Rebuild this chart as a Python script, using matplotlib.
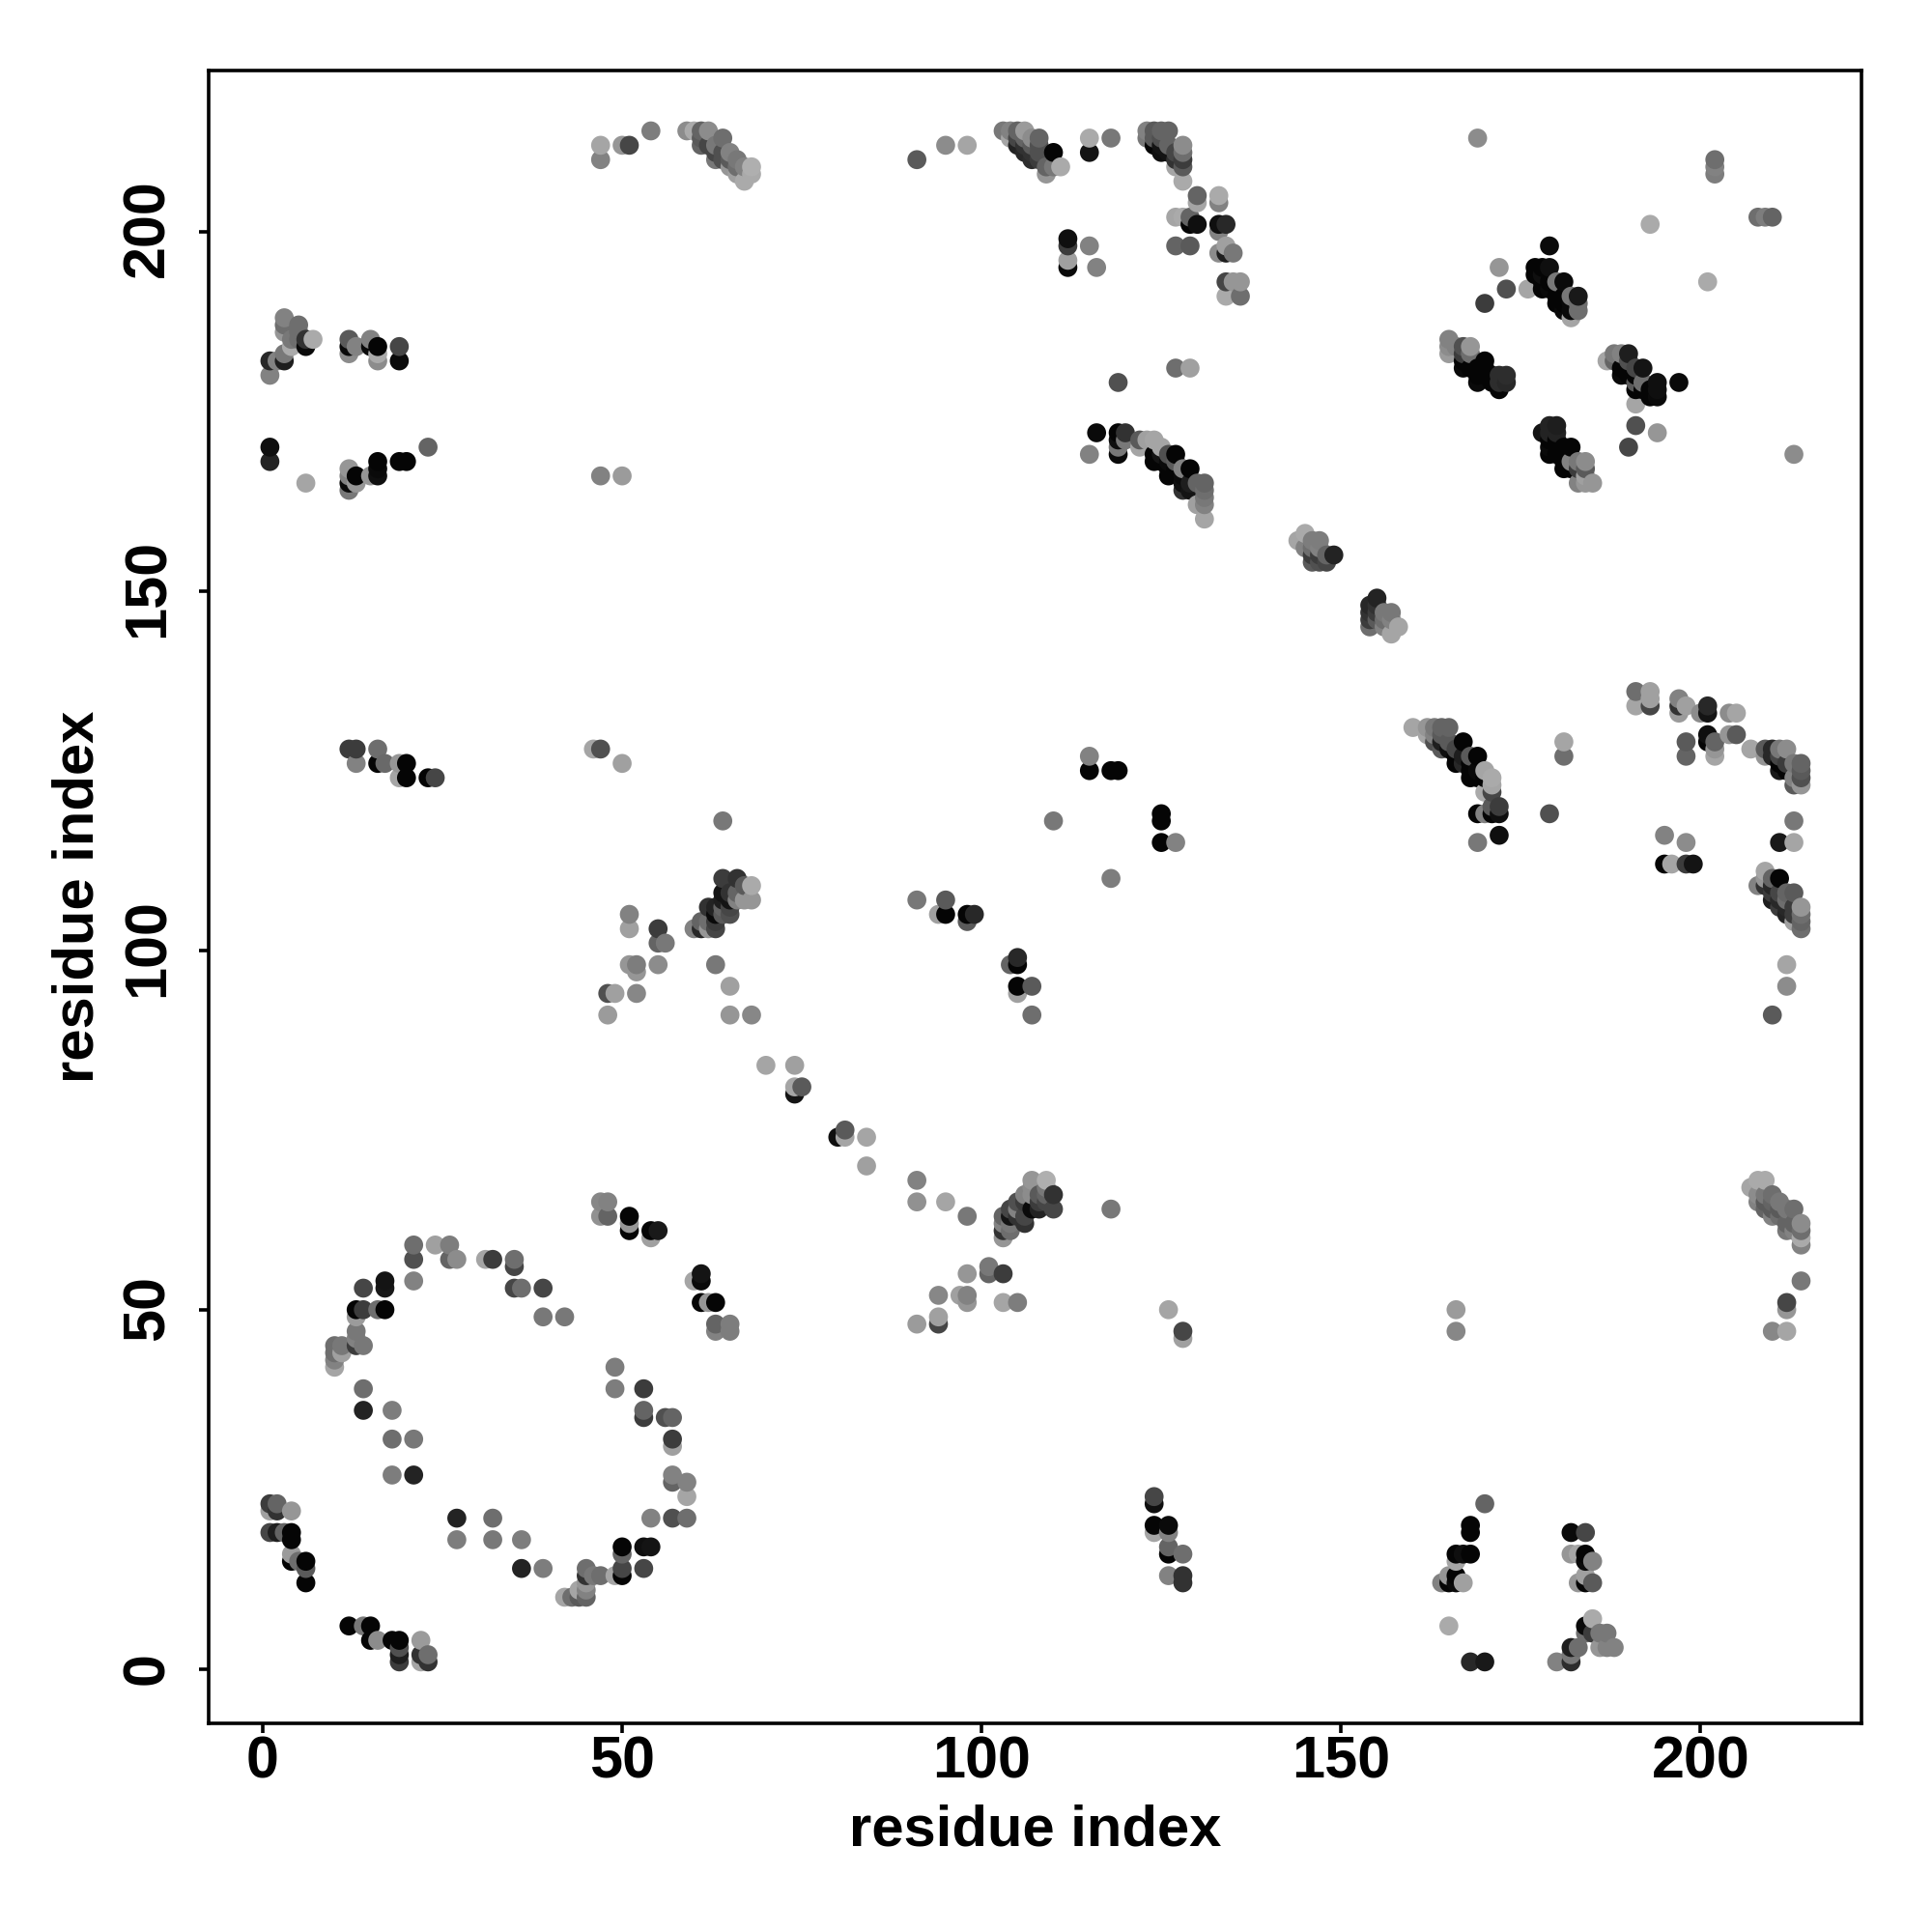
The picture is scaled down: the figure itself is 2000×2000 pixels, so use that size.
import numpy as np
import matplotlib
matplotlib.use("Agg")
import matplotlib.pyplot as plt
from matplotlib.transforms import ScaledTranslation

# each contact is (residue i, residue j, grey level)
top_left = [
    (47,212,165),(47,210,130),(50,212,150),(51,212,70),(54,214,125),(59,214,140),(60,214,170),(61,214,100),
    (62,214,140),(64,213,110),(61,213,90),(61,212,100),(62,212,70),(63,212,120),(63,211,70),(64,211,80),(64,210,80),
    (63,210,120),(65,211,130),(65,210,90),(65,209,150),(66,210,120),(66,209,110),(66,208,160),(67,209,130),(67,207,170),
    (68,209,175),(68,208,170),
    (3,188,130),(3,187,110),(3,186,150),(5,187,110),(5,186,110),(5,185,110),(4,185,120),(4,184,170),(3,183,120),(3,182,30),
    (1,182,40),(2,182,130),(1,180,130),(6,184,10),(6,185,50),(7,185,170),
    (12,185,90),(12,184,10),(12,183,140),(13,184,130),(15,185,130),(15,184,10),(16,184,5),(16,183,170),(16,182,140),
    (19,184,70),(19,182,10),
    (1,170,15),(1,168,35),(6,165,165),(23,170,100),(19,168,5),(20,168,5),(16,168,5),(16,167,10),(16,166,15),(15,166,150),
    (13,166,5),(12,167,150),(12,166,130),(12,165,10),(13,165,150),(12,164,120),(47,166,130),(50,166,155),
]
top_middle = [
    (91,210,90),(95,212,140),(98,212,165),(103,214,120),(104,214,130),(105,214,100),(106,214,155),(104,213,165),(105,213,70),
    (105,212,35),(106,213,100),(106,212,50),(106,211,40),(107,213,140),(107,212,90),(107,211,50),(107,210,45),(108,213,100),
    (108,212,80),(108,211,80),(108,210,60),(109,209,100),(109,208,150),(110,211,5),(110,209,120),(111,209,170),
    (115,213,170),(115,211,20),(118,213,120),
    (123,214,130),(123,213,120),(124,214,90),(124,213,90),(124,212,5),(125,214,100),(125,213,80),(125,212,20),(125,211,15),
    (126,214,100),(126,212,100),(126,211,20),(127,211,70),(127,210,50),(127,209,165),(128,212,140),(128,211,110),(128,210,60),
    (128,209,90),(128,207,170),
    (130,205,100),(130,204,165),(133,205,170),(133,204,130),(127,202,165),(128,202,170),(129,202,100),(129,201,5),(130,201,15),
    (133,201,15),(134,201,40),(133,200,130),(127,198,100),(129,198,90),(133,197,140),(134,198,160),(134,197,30),(135,197,120),
    (134,193,70),(135,193,150),(136,193,150),(134,191,170),(136,191,110),
    (112,199,15),(112,198,60),(112,196,160),(112,195,10),(115,198,130),(116,195,130),(127,181,110),(129,181,160),(119,179,80),
    (116,172,10),(119,172,5),(120,172,50),(119,171,15),(119,170,120),(119,169,10),(115,169,130),(120,171,120),(122,171,90),
    (123,171,160),(124,171,165),(122,170,165),(125,170,165),(124,169,5),(124,168,5),(125,168,5),(125,169,20),(126,169,80),
    (126,168,10),(126,167,5),(127,169,5),(127,168,90),(127,167,5),(126,166,5),(128,167,130),(128,166,10),(128,165,15),(129,167,5),
    (128,164,50),(129,165,30),(129,164,20),(130,165,100),(131,165,100),(131,164,110),(131,163,120),(130,162,160),(131,162,130),
    (131,160,165),
]
top_right = [
    (169,213,140),(202,210,110),(202,209,130),(202,208,125),(208,202,110),(209,202,125),(210,202,100),(193,201,170),(201,193,170),
    (213,169,140),(179,198,10),(172,195,150),(173,192,80),(170,190,60),(176,192,165),
    (177,195,5),(178,195,5),(179,195,15),(177,194,5),(178,194,15),(178,193,5),(178,192,5),(179,193,5),(179,192,10),(180,193,120),
    (181,193,10),(180,191,5),(180,190,5),(181,191,5),(182,191,120),(183,191,25),(181,190,5),(181,189,10),(183,190,110),(183,189,110),
    (182,190,10),(182,189,10),(182,188,165),
    (165,185,130),(165,184,140),(165,183,155),(166,184,130),(167,184,80),(168,184,150),(167,183,60),(167,182,5),(167,181,10),
    (168,183,110),(168,181,5),(169,181,5),(169,180,5),(169,179,10),(170,182,5),(170,181,5),(170,180,5),(171,180,5),(171,179,5),
    (172,180,45),(173,180,45),(172,179,45),(173,179,40),(172,178,5),
    (187,182,165),(188,183,120),(188,182,100),(189,183,130),(189,181,5),(189,180,10),(190,183,30),(190,182,80),(190,181,5),
    (190,180,5),(191,181,70),(192,181,20),(191,180,5),(191,179,90),(191,178,5),(192,179,110),(192,178,5),(193,178,5),(194,179,15),
    (194,178,15),(194,177,10),(193,177,5),(191,176,165),(197,179,10),(191,173,80),(194,172,150),(190,170,70),
    (178,172,20),(179,173,35),(180,173,30),(179,172,35),(180,172,35),(179,171,5),(180,171,5),(179,170,10),(181,170,5),(182,170,5),
    (179,169,5),(180,169,5),(181,168,5),(181,167,5),(182,167,5),(182,168,130),(183,168,120),(183,167,60),(184,168,140),(184,167,90),
    (183,165,130),(184,166,160),(184,165,150),(185,165,150),
]
diagonal = [
    (144,157,165),(145,158,170),(145,156,130),(146,157,125),(147,157,125),(146,156,110),(146,155,60),(146,154,90),(147,156,130),
    (147,155,60),(147,154,80),(148,155,100),(148,154,70),(149,155,35),
    (154,148,40),(154,147,50),(154,146,60),(154,145,110),(155,149,35),(155,148,50),(155,147,60),(155,146,90),(156,147,120),
    (156,146,110),(156,145,130),(157,147,120),(157,146,130),(157,144,165),(158,145,165),
]
middle_left = [
    (12,128,60),(13,128,60),(13,126,130),(16,128,110),(16,126,5),(17,126,105),(19,126,150),(20,126,5),(19,124,165),(20,124,5),
    (23,124,5),(24,124,70),(46,128,165),(47,128,80),(50,126,160),(64,118,120),
    (64,110,60),(66,110,50),(67,109,90),(68,109,170),(64,108,20),(65,108,50),(65,107,20),(66,107,130),(66,108,100),(67,107,150),
    (68,107,150),(62,106,50),(63,106,35),(64,107,30),(64,106,100),(65,106,70),(65,105,80),(63,105,10),(64,105,90),(61,104,100),
    (62,104,110),(60,103,130),(61,103,40),(62,103,150),(63,103,70),(63,104,60),
    (51,105,130),(51,103,160),(55,103,60),(55,101,100),(56,101,120),(51,98,150),(52,98,125),(52,97,150),(55,98,140),(63,98,120),
    (65,95,160),(48,94,80),(49,94,160),(52,94,135),(48,91,155),(65,91,150),(68,91,135),
]
middle_centre = [
    (115,127,130),(115,125,5),(118,125,5),(119,125,5),(110,118,120),(125,119,5),(125,118,5),(125,115,5),(127,115,130),(118,110,125),
    (91,107,120),(95,107,90),(94,105,160),(95,105,5),(98,105,5),(98,104,90),(99,105,40),(104,98,100),(105,99,40),(105,98,5),
    (105,95,5),(105,94,160),(107,95,90),(107,91,110),
    (70,84,165),(74,84,160),(74,81,165),(74,80,20),(75,81,90),(80,74,15),(81,75,90),(81,74,165),(84,74,165),(84,70,160),
]
middle_right = [
    (160,131,165),(162,131,150),(163,131,120),(164,131,100),(165,131,100),(162,130,165),(163,130,130),(163,129,80),(164,130,90),
    (164,129,30),(164,128,90),(165,129,90),(165,128,15),(167,129,5),(166,128,70),(166,127,5),(168,127,90),(169,127,5),(166,126,5),
    (167,127,30),(167,126,40),(168,126,5),(168,125,5),(168,124,5),(169,125,10),(169,124,5),(170,125,165),(171,124,170),(170,124,5),
    (171,123,165),(170,122,170),(171,122,70),(172,120,60),(171,120,90),(169,119,5),(170,119,130),(171,119,5),(172,119,15),(172,116,15),
    (169,115,120),(179,119,80),(181,129,165),(181,127,110),
    (191,136,110),(193,136,160),(193,135,160),(193,134,70),(191,134,165),(197,135,130),(198,134,160),(197,134,50),(197,133,155),
    (200,133,140),(201,134,40),(201,133,20),(204,133,140),(205,133,165),(201,130,15),(201,129,5),(204,130,150),(205,130,90),
    (202,129,100),(202,128,150),(202,127,165),(198,129,90),(198,127,100),
    (207,128,165),(209,128,90),(209,127,150),(210,128,40),(210,127,40),(211,128,120),(212,128,140),(211,127,70),(211,126,5),
    (211,125,25),(212,126,60),(212,125,5),(213,126,120),(214,126,100),(214,125,90),(213,124,130),(214,124,80),(213,123,90),(214,123,150),
    (213,118,120),(211,115,25),(213,115,165),(195,116,130),(198,115,140),(195,112,5),(196,112,165),(198,112,60),(199,112,20),
    (209,111,165),(208,109,130),(209,110,150),(210,110,100),(211,110,5),(209,109,50),(210,109,40),(210,108,60),(210,107,30),
    (211,108,70),(211,107,40),(211,106,60),(212,108,100),(213,108,90),(212,107,110),(212,106,40),(212,105,35),(214,106,150),
    (213,106,60),(213,105,60),(213,104,160),(214,105,110),(214,104,100),(214,103,110),
    (212,98,165),(212,95,140),(210,91,90),
]
bottom_left = [
    (47,65,135),(48,65,130),(47,63,145),(48,63,100),(51,63,5),(51,62,150),(51,61,5),(54,61,5),(54,60,160),(55,61,25),
    (61,55,20),(61,54,10),(60,54,165),(61,51,5),(62,51,150),(63,51,5),(63,48,100),(63,47,130),(65,48,125),(65,47,125),
    (21,59,110),(21,57,80),(21,54,130),(24,59,160),(26,59,125),(26,57,100),(27,57,140),(31,57,165),(32,57,60),(35,57,110),(35,56,70),
    (35,53,70),(36,53,110),(39,53,70),(39,49,120),(42,49,120),
    (14,53,70),(17,54,20),(17,53,25),(13,50,5),(14,50,60),(16,50,110),(17,50,5),(13,49,155),(13,47,120),(13,46,130),(14,45,120),
    (13,45,60),(10,45,110),(11,45,120),(10,44,110),(11,44,160),(10,43,130),(10,42,165),
    (14,39,110),(14,36,35),(18,36,125),(18,32,110),(21,32,120),(18,27,125),(21,27,35),
    (49,42,125),(49,39,125),(53,39,60),(53,36,100),(53,35,60),(56,35,80),(57,35,100),(57,32,60),(57,31,160),(57,27,130),(57,26,100),
    (59,26,130),(59,24,165),(54,21,130),(57,21,80),(59,21,110),
    (50,17,5),(50,16,100),(53,17,15),(54,17,20),(50,14,70),(50,13,5),(53,14,70),(49,13,165),(47,13,110),(46,13,120),(45,14,110),
    (45,13,50),(45,12,150),(44,11,165),(45,11,130),(43,10,110),(42,10,165),(44,10,90),(45,10,100),
    (27,21,35),(32,21,110),(27,18,125),(32,18,120),(36,18,125),(36,14,35),(39,14,125),
    (1,23,60),(2,23,100),(1,22,160),(2,22,50),(4,22,150),(1,19,70),(2,19,30),(3,19,100),(4,19,5),(4,18,5),(4,16,155),(4,15,5),
    (5,15,110),(6,15,5),(6,14,90),(6,12,5),
    (12,6,5),(14,6,120),(15,6,5),(15,4,5),(16,4,140),(18,4,5),(19,4,5),(19,3,80),(19,2,30),(19,1,60),(22,4,155),(22,2,50),(22,1,165),
    (23,2,110),(23,1,50),
]
bottom_middle = [
    (91,68,130),(91,65,145),(95,65,165),(98,63,120),(107,68,150),(109,68,175),(107,67,140),(109,67,120),(110,66,50),(110,64,70),
    (105,65,80),(104,64,70),(103,63,100),(118,64,120),(106,66,130),(107,66,140),(108,66,90),(109,66,100),(106,65,60),(107,64,10),
    (108,65,60),(108,64,35),(109,65,70),(106,63,70),(105,63,50),(106,62,50),(105,64,130),(104,63,20),(104,62,120),(103,62,130),
    (104,61,110),(103,61,50),(103,60,150),
    (101,56,120),(101,55,100),(103,55,60),(98,55,150),(94,52,135),(97,52,160),(98,52,130),(98,51,150),(103,51,165),(105,51,125),
    (91,48,155),(94,49,160),(94,48,70),(126,50,165),(128,47,70),(128,46,160),
    (124,24,70),(124,23,15),(124,20,5),(126,20,10),(124,19,165),(126,19,130),(126,17,100),(126,16,5),(128,16,110),(126,13,130),
    (128,13,50),(128,12,50),
]
bottom_right = [
    (207,67,165),(208,68,170),(209,68,170),(208,66,140),(208,65,130),(209,66,120),(209,65,90),(209,64,100),(210,66,110),(210,65,100),
    (210,64,90),(210,63,130),(211,65,120),(211,64,90),(211,63,110),(212,64,120),(213,64,110),(212,62,100),(212,61,120),(213,62,100),
    (213,61,130),(214,62,140),(214,61,110),(214,60,170),(214,59,130),
    (214,54,120),(212,51,70),(212,50,150),(210,47,135),(212,47,165),(166,50,155),(166,47,135),
    (170,23,100),(168,20,5),(168,19,5),(166,16,5),(167,16,15),(168,16,5),(166,15,165),(165,13,150),(164,12,130),(165,12,5),(166,13,5),
    (166,12,10),(167,12,160),(165,6,170),(168,1,40),(170,1,25),
    (182,19,10),(184,19,70),(182,16,150),(183,16,165),(184,16,5),(184,15,10),(185,15,130),(183,12,150),(184,13,160),(184,12,5),(185,12,90),
    (185,7,170),(184,6,10),(185,5,60),(184,5,110),(186,5,120),(187,5,120),(186,3,150),(187,3,130),(188,3,130),(182,3,30),(183,3,110),
    (182,2,120),(182,1,45),(180,1,130),
]

TICKS = [0, 50, 100, 150, 200]

regions = [top_left, top_middle, top_right, diagonal, middle_left, middle_centre,
           middle_right, bottom_left, bottom_middle, bottom_right]
points = np.array([p for region in regions for p in region], dtype=float)

# drawn by column then row, later points sit on top
order = np.lexsort((points[:, 1], points[:, 0]))
points = points[order]
colors = np.repeat(points[:, 2:3] / 255, 3, axis=1)

plt.rcParams['font.family'] = ['Liberation Sans', 'DejaVu Sans']
plt.rcParams['font.weight'] = 'bold'

fig = plt.figure(figsize=(10, 10), dpi=200)
ax = fig.add_axes([216 / 2000, 1 - 1783.5 / 2000, (1927 - 216) / 2000, (1783.5 - 73) / 2000])

ax.scatter(points[:, 0], points[:, 1], s=50, c=colors, linewidths=0, zorder=2)

ax.set_xlim(-7.52, 222.4)
ax.set_ylim(-7.48, 222.4)
ax.set_xticks(TICKS)
ax.set_yticks(TICKS)
ax.tick_params(axis='both', length=3.6, width=1.3, labelsize=22)
ax.tick_params(axis='x', pad=1)
ax.tick_params(axis='y', pad=18.7)
# rotated y labels sit a little low on their ticks, nudge them up by text length
for tick, label in zip(TICKS, ax.get_yticklabels()):
    label.set_rotation(90)
    label.set_rotation_mode('anchor')
    label.set_horizontalalignment('center')
    label.set_verticalalignment('center')
    nudge = 0.37 * len(str(tick)) / 72
    label.set_transform(label.get_transform() + ScaledTranslation(0, nudge, fig.dpi_scale_trans))
for spine in ax.spines.values():
    spine.set_linewidth(1.3)

ax.set_xlabel("residue index", fontsize=21.5, fontweight='bold', labelpad=5)
ax.set_ylabel("residue index", fontsize=21.5, fontweight='bold', labelpad=6)

fig.savefig("out.png", dpi=200)
